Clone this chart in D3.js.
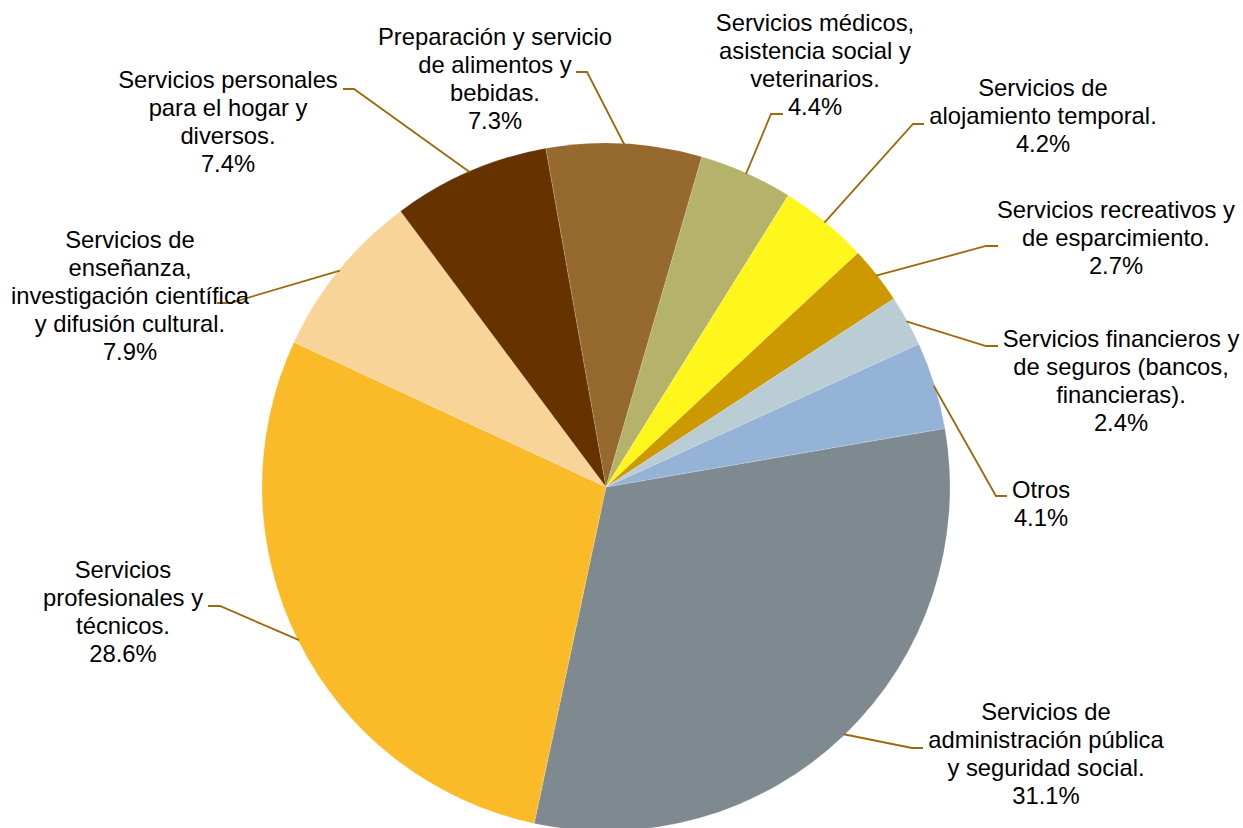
<!DOCTYPE html>
<html>
<head>
<meta charset="utf-8">
<script src="https://cdn.jsdelivr.net/npm/d3@7/dist/d3.min.js"></script>
<style>
  html, body { margin: 0; padding: 0; background: #fff; }
  svg { display: block; }
  text { font-family: "Liberation Sans", Arial, sans-serif; }
</style>
</head>
<body>
<svg id="chart" width="1243" height="828"></svg>
<script>
// ---- data ----
const categories = [
  ["Servicios de", "administración pública", "y seguridad social."],
  ["Servicios", "profesionales y", "técnicos."],
  ["Servicios de", "enseñanza,", "investigación científica", "y difusión cultural."],
  ["Servicios personales", "para el hogar y", "diversos."],
  ["Preparación y servicio", "de alimentos y", "bebidas."],
  ["Servicios médicos,", "asistencia social y", "veterinarios."],
  ["Servicios de", "alojamiento temporal."],
  ["Servicios recreativos y", "de esparcimiento."],
  ["Servicios financieros y", "de seguros (bancos,", "financieras)."],
  ["Otros"]
];
const values = [31.1, 28.6, 7.9, 7.4, 7.3, 4.4, 4.2, 2.7, 2.4, 4.1];
const percentLabels = ["31.1%", "28.6%", "7.9%", "7.4%", "7.3%", "4.4%", "4.2%", "2.7%", "2.4%", "4.1%"];

// ---- styling / layout ----
const colors = ["#7F8A90", "#FBBA27", "#F9D498", "#663300", "#966A2E",
                "#B5B26B", "#FFF71C", "#CC9900", "#BACDD5", "#95B3D7"];
// label layout: text centre x, first baseline y, elbow point, end of horizontal tick
const labelLayout = [
  {x: 1046, y: 720, ex: 912, ey: 748, hx: 923},
  {x: 123,  y: 578, ex: 220, ey: 606, hx: 208},
  {x: 130,  y: 248, ex: 230, ey: 303, hx: 217},
  {x: 228,  y: 88,  ex: 354, ey: 89,  hx: 343},
  {x: 495,  y: 45,  ex: 587, ey: 72,  hx: 576},
  {x: 815,  y: 31,  ex: 771, ey: 114, hx: 783},
  {x: 1043, y: 96,  ex: 913, ey: 124, hx: 924},
  {x: 1116, y: 218, ex: 986, ey: 246, hx: 998},
  {x: 1121, y: 347, ex: 986, ey: 346, hx: 998},
  {x: 1041, y: 498, ex: 996, ey: 496, hx: 1007}
];
const cx = 606, cy = 487, R = 344;
const fontSize = 23.8, lineH = 28;
const startDeg = 80.2;

const svg = d3.select("#chart");
const g = svg.append("g").attr("transform", `translate(${cx},${cy})`);

const data = values.map((v, i) => ({v, i}));
const pie = d3.pie().value(d => d.v).sort(null)
  .startAngle(startDeg * Math.PI / 180)
  .endAngle(startDeg * Math.PI / 180 + 2 * Math.PI);
const arcs = pie(data);
const arc = d3.arc().innerRadius(0).outerRadius(R);

g.selectAll("path.slice").data(arcs).enter().append("path")
  .attr("class", "slice")
  .attr("d", arc)
  .attr("fill", d => colors[d.data.i])
  .attr("stroke", "rgba(255,255,255,0.3)")
  .attr("stroke-width", 0.5);

// leader lines
const lines = svg.append("g");
arcs.forEach(d => {
  const L = labelLayout[d.data.i];
  const mid = (d.startAngle + d.endAngle) / 2;
  const px = cx + Math.sin(mid) * (R - 1);
  const py = cy - Math.cos(mid) * (R - 1);
  lines.append("polyline")
    .attr("points", `${px},${py} ${L.ex},${L.ey} ${L.hx},${L.ey}`)
    .attr("fill", "none")
    .attr("stroke", "#9C6A0C")
    .attr("stroke-width", 1.8);
});

// labels
const labels = svg.append("g");
arcs.forEach(d => {
  const i = d.data.i;
  const L = labelLayout[i];
  const t = labels.append("text")
    .attr("x", L.x).attr("y", L.y)
    .attr("text-anchor", "middle")
    .attr("font-size", fontSize)
    .attr("fill", "#000");
  const all = categories[i].concat([percentLabels[i]]);
  all.forEach((s, k) => {
    t.append("tspan").attr("x", L.x).attr("y", L.y + k * lineH).text(s);
  });
});
</script>
</body>
</html>
